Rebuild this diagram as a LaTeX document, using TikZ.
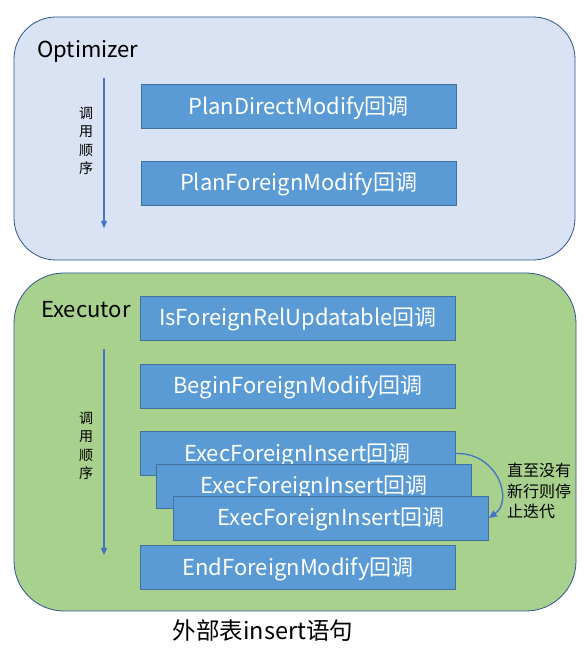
\documentclass[tikz,border=0pt]{standalone}
\usepackage{fontspec}
\setmainfont{Noto Sans CJK SC}
\usetikzlibrary{arrows.meta}
\definecolor{cbfill}{HTML}{5B9BD5}
\definecolor{cbdraw}{HTML}{41719C}
\definecolor{optfill}{HTML}{DAE3F3}
\definecolor{exefill}{HTML}{A9D18E}
\definecolor{panedraw}{HTML}{2F528F}
\definecolor{arrowc}{HTML}{4472C4}
\begin{document}
\begin{tikzpicture}[x=1pt,y=1pt,
  cbbox/.style={fill=cbfill,draw=cbdraw,line width=0.8pt,minimum width=315pt,minimum height=44pt,inner sep=0pt,text height=16pt,text depth=0pt,text=white,font=\fontsize{22}{26}\selectfont},
  panetitle/.style={anchor=west,inner sep=0pt,text height=16pt,text depth=0pt,font=\fontsize{22}{26}\selectfont},
  ordertext/.style={align=center,inner sep=0pt,font=\fontsize{14}{18.5}\selectfont},
  orderarrow/.style={draw=arrowc,line width=1.3pt,-{Triangle[length=7pt,width=6pt]}}]
\useasboundingbox (0,0) rectangle (587,652);
% panes
\draw[fill=optfill,draw=panedraw,line width=0.8pt,rounded corners=42pt] (14,635) rectangle (575,392);
\draw[fill=exefill,draw=panedraw,line width=0.8pt,rounded corners=50pt] (14,379) rectangle (576,41);
\node[panetitle] (opt) at (37,602) {Optimizer};
\node[panetitle] (exe) at (41,342) {Executor};
% optimizer
\coordinate (oa1) at (104,574);
\coordinate (oa2) at (104,424);
\draw[orderarrow] (oa1) -- (oa2);
\node[ordertext] (ot) at (86,511) {调\\用\\顺\\序};
\node[cbbox] (pdm) at (298.5,545.5) {PlanDirectModify回调};
\node[cbbox] (pfm) at (298.5,469) {PlanForeignModify回调};
% executor
\coordinate (ea1) at (104,303);
\coordinate (ea2) at (104,97);
\draw[orderarrow] (ea1) -- (ea2);
\node[ordertext] (et) at (86,206) {调\\用\\顺\\序};
\node[cbbox] (iru) at (298,334) {IsForeignRelUpdatable回调};
\node[cbbox] (bfm) at (298,266) {BeginForeignModify回调};
\node[cbbox] (ex1) at (297.5,198.5) {ExecForeignInsert回调};
\node[cbbox] (ex2) at (314,166) {ExecForeignInsert回调};
\node[cbbox] (ex3) at (331,134) {ExecForeignInsert回调};
\node[cbbox] (efm) at (298,84.5) {EndForeignModify回调};
\draw[draw=arrowc,line width=1.3pt,-{Triangle[length=8pt,width=7pt]}] (ex1.east) .. controls (497,200) and (514,152) .. (ex3.east);
\node[anchor=west,align=left,inner sep=0pt,font=\fontsize{16}{20.5}\selectfont] (lbl) at (507,161) {直至没有\\新行则停\\止迭代};
\node[font=\fontsize{23.5}{26}\selectfont,inner sep=0pt] (cap) at (263,21) {外部表insert语句};
\end{tikzpicture}
\end{document}
